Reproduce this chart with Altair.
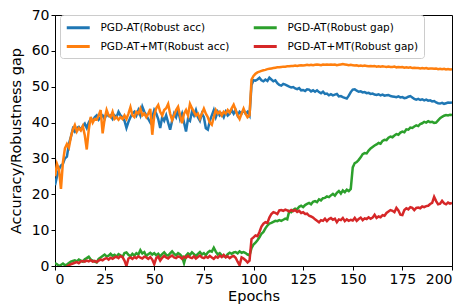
import altair as alt
import pandas as pd

epochs = list(range(201))

names = ["PGD-AT(Robust acc)", "PGD-AT+MT(Robust acc)", "PGD-AT(Robust gap)", "PGD-AT+MT(Robust gap)"]
colors = ["#1f77b4", "#ff7f0e", "#2ca02c", "#d62728"]

pgd_acc = [
    22.5, 25, 27, 28, 28.5, 30, 30.5, 34, 36, 38.3,
    37.5, 38.5, 38.8, 38, 39, 39.7, 38.5, 40, 41, 40.5,
    41.5, 42, 40.8, 41.5, 42, 41, 42.5, 41.8, 42, 41,
    42, 41.5, 43, 42, 41.5, 40.5, 38.5, 40.2, 41.5, 42.5,
    43, 42, 43.5, 42, 44.4, 43, 42, 41, 40, 41.5,
    43.5, 42.5, 41, 38.5, 41.5, 40.5, 42, 40, 38, 40.5,
    42.5, 41.5, 43.5, 41, 42.5, 40, 37.5, 41, 40.5, 43,
    42, 43.5, 41.5, 40.5, 42.5, 41.5, 38.4, 38, 40.5, 42,
    43.5, 41.5, 43, 42, 42.5, 41.5, 43, 42, 42.5, 43.5,
    42.5, 43.5, 42, 43, 42.5, 43.5, 42.5, 43, 42,
    50.5, 51.8, 51.7, 52, 52.5, 51.8, 51.5, 52, 51.6, 52.5, 52,
    51.5, 51.8, 51, 50.5, 50.3, 50.8, 50.6, 50.3, 50, 49.8,
    49.9, 49.5, 49.3, 49.6, 49, 49.1, 48.8, 49.3, 49.2, 48.7,
    49, 48.6, 49, 48.5, 48.2, 48.6, 48, 48.1, 47.6, 47.9,
    47.6, 47.8, 48, 47.3, 47.4, 47.1, 46.9, 46.7, 47.5, 48.5,
    49.2, 49.3, 48.9, 48.6, 48.7, 48.4, 48.5, 48.2, 48.3, 48,
    48.1, 47.8, 47.7, 47.9, 47.6, 47.8, 47.5, 47.6, 47.7, 47.4,
    47.3, 47.2, 47.1, 47.3, 47, 47.1, 46.8, 46.9, 47.2, 47.4,
    47, 46.6, 46.4, 46.6, 46.3, 46.5, 46.2, 46.4, 46.1, 46.2,
    45.9, 46, 45.6, 45.4, 45.3, 45.5, 45.2, 45.4, 45.6, 45.5, 45.6,
]

mt_acc = [
    25, 28.5, 27, 21.5, 29, 32.8, 34, 33, 36, 38,
    39.3, 37.5, 38.5, 37.8, 39, 36.5, 32.5, 38, 41.6, 40,
    41, 40.8, 42, 43.5, 37, 41, 43.5, 42, 41.5, 43,
    41, 41.5, 40.8, 41.5, 41, 42, 41, 42.5, 44.3, 42,
    41.5, 43, 42.5, 43.9, 42, 42.5, 41.5, 42.5, 43.8, 36.6,
    42, 44, 44.9, 43, 42, 43.5, 44, 45.2, 42.5, 40.7,
    42, 43.5, 44.4, 42, 39.8, 42.5, 43.5, 42, 45.2, 44,
    43, 42, 42.5, 41.1, 42.5, 43.9, 42.5, 41.5, 40, 39.4,
    41.5, 43.5, 42.5, 43, 42, 43, 42.5, 43.5, 42.8, 44,
    45, 43.5, 42, 41, 42.5, 43.9, 42.5, 41.5, 42,
    52, 53, 53.6, 54, 54.2, 54.4, 54.6, 54.7, 54.9, 55, 55.1,
    55.2, 55.3, 55.4, 55.4, 55.5, 55.6, 55.6, 55.7, 55.7, 55.8,
    55.8, 55.9, 55.8, 55.9, 56, 55.9, 56, 56.1, 56, 56.1,
    56, 56.1, 56.2, 56.1, 56, 56.2, 56.1, 56.2, 56.1, 56.2,
    56.1, 56.2, 56, 56.1, 56.2, 56.3, 56.2, 56.1, 56, 56.1,
    56, 55.9, 56, 55.8, 55.9, 55.8, 55.9, 55.8, 55.7, 55.8,
    55.7, 55.8, 55.6, 55.7, 55.6, 55.7, 55.6, 55.5, 55.6, 55.5,
    55.5, 55.6, 55.4, 55.5, 55.4, 55.5, 55.3, 55.4, 55.3, 55.4,
    55.2, 55.3, 55.2, 55.2, 55.1, 55.2, 55.1, 55.2, 55, 55.1,
    55.1, 55, 55.1, 54.9, 55, 54.9, 55, 54.8, 54.9, 54.8, 54.9,
]

pgd_gap = [
    0.8, 0.5, 0, 0.3, 0.7, 0.2, 0.4, 0.8, 1.2, 1.4,
    1.6, 1.3, 1.8, 1.5, 1.2, 1.9, 2.2, 2.6, 1.8, 1.5,
    1.2, 1, 2, 2.4, 2.8, 3.2, 2.7, 2.9, 3.4, 2.8,
    3.1, 2.6, 3.3, 3, 2.5, 3.6, 3.8, 3.1, 2.7, 3.4,
    2.9, 3.6, 3.2, 4.4, 3.5, 3.9, 2.8, 3.3, 3.7, 3.2,
    3.6, 3, 3.4, 2.7, 3.3, 3.8, 3.1, 2.9, 3.5, 4.1,
    3.4, 3, 3.6, 3.2, 2.6, 0.8, 2.9, 3.5, 3.1, 3.8,
    3.3, 2.8, 3.4, 3.9, 3.2, 3.6, 3, 3.8, 4.2, 4,
    5.1, 4, 3.2, 3.6, 3, 2.7, 2.6, 3.3, 3.7, 3.4,
    3.8, 3.9, 3.5, 4.1, 3.7, 3.9, 3.6, 3.2, 3,
    5, 6, 6.5, 7.2, 8, 9, 9.5, 10.5, 11.3, 11.8, 12,
    12.3, 12.6, 12.5, 12.8, 12.6, 12.9, 13.2, 13, 15.3, 15,
    15.6, 16, 15.8, 16.5, 16.8, 16.4, 17, 17.3, 17.6, 17.2,
    17.9, 18.1, 17.8, 18.6, 18.3, 18.9, 19, 19.4, 19.2, 19.7,
    20.1, 19.6, 20.4, 20.9, 20.2, 21.1, 20.6, 21.3, 20.9, 21.5,
    27.5, 28.7, 29, 29.6, 30.3, 31.2, 31.5, 31.4, 32.2, 32.8,
    33.2, 33.6, 33.9, 34.3, 34.1, 34.9, 35.2, 35.1, 35.8, 36.1,
    35.9, 36.4, 36.8, 36.6, 37.2, 37.5, 37.3, 38.1, 38, 38.6,
    38.5, 38.9, 39.2, 39, 39.6, 39.8, 40.2, 40, 40.4, 40.1,
    40.2, 39.9, 40, 40.6, 41.2, 41.6, 41.9, 42.1, 42, 42.2, 42.1,
]

mt_gap = [
    -2, -1.5, -1.2, -1, -0.8, -0.5, -0.2, 0.2, 0.5, 0.7,
    0.9, 1.1, 0.8, 1.3, 1.4, 1.2, 1.5, 1.3, 1.6, 1.2,
    1.4, 1.1, 1.5, 1.8, 1.6, 2, 2.2, 1.8, 2.3, 2,
    2.4, 2.6, 2.2, 2.8, 2.5, 1.5, 0, 2.1, 2.4, 2,
    2.5, 2.2, 2.7, 2.3, 2.1, 2.6, 2.4, 2, 2.5, 1.8,
    0.5, 2.2, 2.6, 1.5, 2.3, 2.8, 2.4, 2.1, 2.6, 2.9,
    2.4, 2.2, 2.7, 2.5, 2, 2.6, 2.3, 2.8, 2.4, 2.2,
    2.7, 2.1, 2.5, 2.9, 2.4, 2.2, 2.6, 2.3, 2.8, 2.4,
    2, 2.6, 2.3, 2.9, 2.5, 3.1, 2.4, 2.7, 2.2, 2.6,
    2.8, 2.3, 1.2, 0.2, 2.4, 2.1, 1.6, 1, 1.5,
    7.5, 8, 8.5, 8.3, 9.5, 11, 11.8, 12.2, 12, 13.5, 14.5,
    15, 14.8, 14.5, 15.5, 15.6, 15.4, 15.7, 15.5, 15.2, 15.6,
    15.3, 15.6, 15.1, 15.4, 14.8, 15, 14.5, 14.6, 14, 13.8,
    13.5, 13, 12.6, 12.2, 12.8, 12.6, 13.2, 12.5, 13.1, 13.4,
    12.9, 13.2, 12.2, 13, 12.8, 13.4, 12.5, 13, 12.6, 12.9,
    12.7, 13.4, 12.6, 13.1, 13.5, 12.8, 13.3, 13.1, 13.6, 13.2,
    13.5, 14.3, 13.4, 13.8, 13.6, 14.2, 14, 14.8, 15.2, 15.6,
    15.4, 15, 16.2, 15.5, 14.3, 14.2, 15.6, 16.1, 15.8, 16.4,
    16.2, 15.6, 16.2, 16.3, 16.1, 16.6, 16.4, 16.7, 16.8, 17.3,
    17.6, 19.3, 18.1, 17.2, 17.4, 18.2, 17.5, 17.2, 17.7, 17.4, 17.6,
]

x_ticks = [0, 25, 50, 75, 100, 125, 150, 175, 200]
y_ticks = [0, 10, 20, 30, 40, 50, 60, 70]

series = {
    "PGD-AT(Robust acc)": pgd_acc,
    "PGD-AT+MT(Robust acc)": mt_acc,
    "PGD-AT(Robust gap)": pgd_gap,
    "PGD-AT+MT(Robust gap)": mt_gap,
}
rows = []
for name, vals in series.items():
    assert len(vals) == len(epochs), (name, len(vals))
    for e, v in zip(epochs, vals):
        rows.append({"epoch": e, "value": v, "series": name})
df = pd.DataFrame(rows)

FONT = "DejaVu Sans"

color = alt.Color(
    "series:N",
    scale=alt.Scale(domain=names, range=colors),
    legend=alt.Legend(
        orient="none", legendX=5, legendY=0, columns=2, title=None,
        symbolType="M-1,0H3", symbolStrokeWidth=3, symbolSize=132,
        labelFontSize=10.5, labelFont=FONT, labelColor="black",
        labelOffset=20.5, columnPadding=17, rowPadding=5, padding=5,
        fillColor="rgba(255,255,255,0.8)", strokeColor="#cccccc",
        cornerRadius=3, labelLimit=300,
    ),
)

x = alt.X("epoch:Q", title="Epochs",
          scale=alt.Scale(domain=[0, 200], nice=False),
          axis=alt.Axis(values=x_ticks, format="d"))
y = alt.Y("value:Q", title="Accuracy/Robustness gap",
          scale=alt.Scale(domain=[0, 70], nice=False),
          axis=alt.Axis(values=y_ticks, format="d"))

layers = []
for name in ["PGD-AT(Robust acc)", "PGD-AT+MT(Robust acc)", "PGD-AT(Robust gap)", "PGD-AT+MT(Robust gap)"]:
    layers.append(
        alt.Chart(df).transform_filter(alt.datum.series == name)
        .mark_line(clip=True, strokeWidth=2.5)
        .encode(x=x, y=y, color=color)
    )

chart = alt.layer(*layers).properties(
    width=397, height=251,
    autosize=alt.AutoSizeParams(type="none"),
    padding={"left": 47, "top": 7, "right": 8, "bottom": 41},
).configure_axis(
    labelFont=FONT, titleFont=FONT, labelFontSize=14, titleFontSize=14.5,
    labelColor="black", titleColor="black", tickColor="black",
    domainColor="black", grid=False, tickSize=4, labelPadding=2,
    titleFontWeight="normal",
).configure_axisY(titlePadding=8).configure_axisX(titlePadding=3).configure_view(
    stroke="black", strokeWidth=1,
)

chart.save("out.html", embed_options={"renderer": "svg", "actions": False})
